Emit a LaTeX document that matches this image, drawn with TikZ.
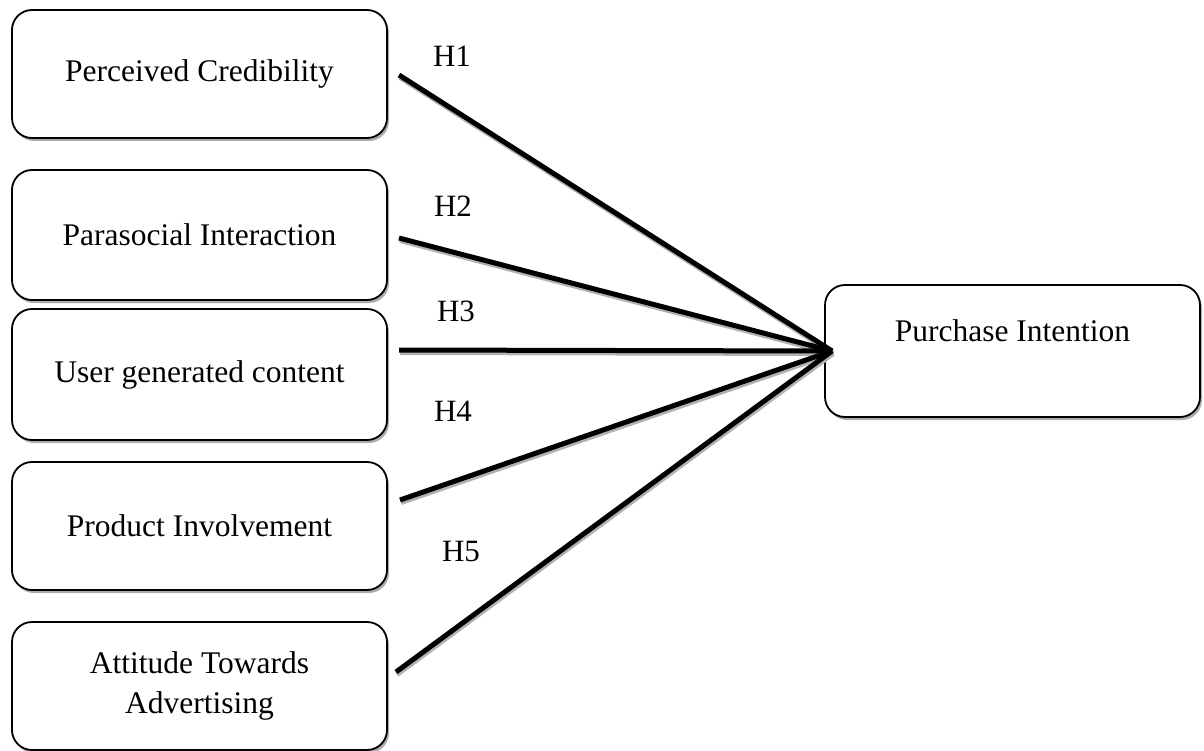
\documentclass[tikz,border=0pt]{standalone}
\usepackage{fontspec}
\setmainfont{Liberation Serif}
\usetikzlibrary{shadows}
\begin{document}
\begin{tikzpicture}[x=1pt,y=-1pt,
  box/.style={draw=black, line width=1.8pt, rounded corners=20pt, fill=white,
    minimum width=375pt, minimum height=128pt, inner sep=0pt, align=center,
    font=\fontsize{31.5}{40}\selectfont,
    drop shadow={shadow xshift=2pt, shadow yshift=-3pt, fill=gray!65, opacity=1}},
  conn/.style={line width=5pt, black},
  connshadow/.style={line width=5pt, gray!60},
  hlab/.style={font=\fontsize{31}{36}\selectfont, inner sep=0pt}]
\useasboundingbox (0,0) rectangle (1204,751);

\node[box] (pc)   at (199.5,74)  {Perceived Credibility};
\node[box, minimum height=130pt] (psi)  at (199.5,235) {Parasocial Interaction};
\node[box, minimum height=131pt] (ugc)  at (199.5,374.5) {User generated content};
\node[box] (pinv) at (199.5,526) {Product Involvement};
\node[box] (ata)  at (199.5,686) {Attitude Towards\\Advertising};
\node[box, minimum height=132pt] (pint) at (1012.5,351) {Purchase Intention\\\mbox{}};

\coordinate (s1) at (399,75);
\coordinate (s2) at (399,238);
\coordinate (s3) at (399,350);
\coordinate (s4) at (400,500);
\coordinate (s5) at (396,672);
\coordinate (hub) at ([xshift=8pt]pint.west);

\begin{scope}[transform canvas={shift={(1pt,-2.5pt)}}]
  \foreach \s in {s1,s2,s3,s4,s5} \draw[connshadow] (\s) -- (hub);
\end{scope}
\foreach \s in {s1,s2,s3,s4,s5} \draw[conn] (\s) -- (hub);

\node[hlab] (h1) at (452,56)  {H1};
\node[hlab] (h2) at (453,206) {H2};
\node[hlab] (h3) at (456,311) {H3};
\node[hlab] (h4) at (453,411) {H4};
\node[hlab] (h5) at (461,551) {H5};
\end{tikzpicture}
\end{document}
